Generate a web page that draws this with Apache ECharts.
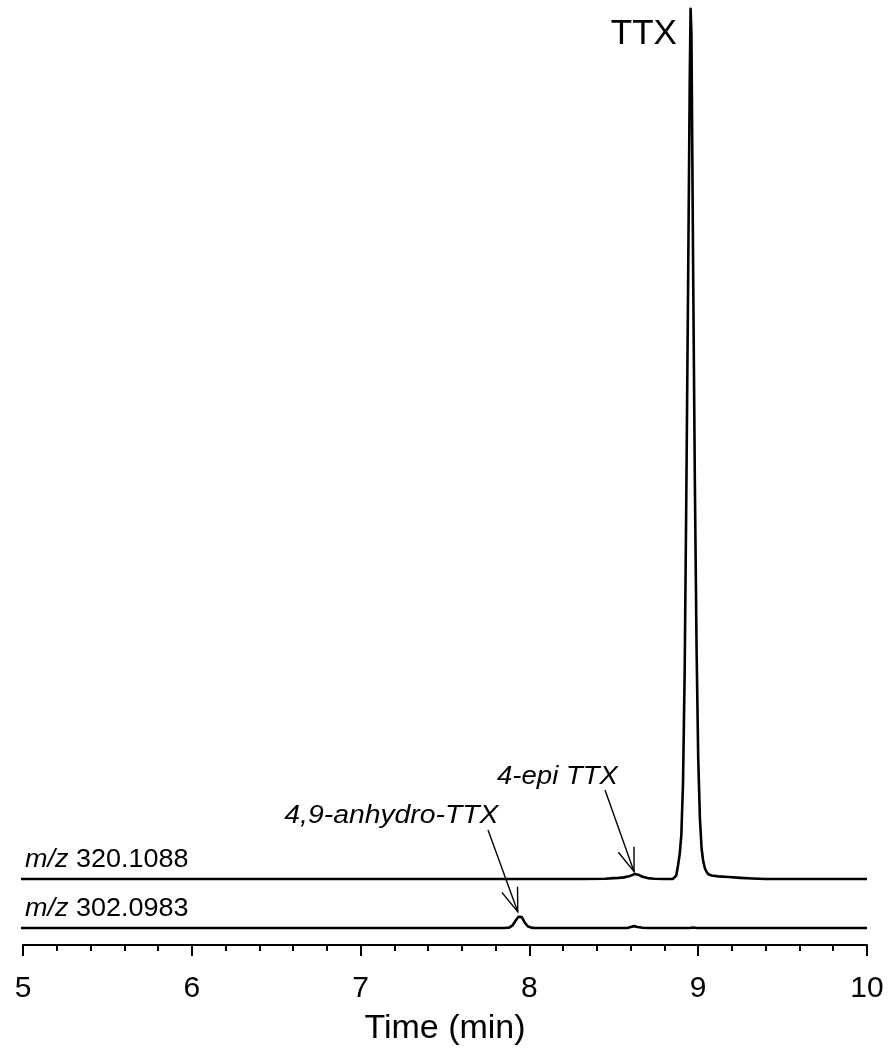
<!DOCTYPE html>
<html>
<head>
<meta charset="utf-8">
<script src="https://cdn.jsdelivr.net/npm/echarts@6/dist/echarts.min.js"></script>
<style>
    html, body { margin: 0; padding: 0; background: #fff; }
    #chart { width: 888px; height: 1053px; }
</style>
</head>
<body>
<div id="chart"></div>
<script>
    // m/z 320.1088 trace (relative intensity, TTX apex = 100)
    const upperTime = [4.983, 8.30, 8.45, 8.50, 8.53, 8.56, 8.59, 8.61, 8.625, 8.636, 8.65, 8.67, 8.70, 8.74, 8.80, 8.85,
        8.86, 8.87, 8.88, 8.89, 8.90, 8.91, 8.92, 8.93, 8.94, 8.95, 8.955, 8.96, 8.97, 8.98, 8.99,
        9.00, 9.01, 9.02, 9.03, 9.04, 9.05, 9.06, 9.08, 9.12, 9.18, 9.25, 9.32, 9.40, 10];
    const upperSignal = [0, 0, 0.03, 0.1, 0.12, 0.18, 0.3, 0.45, 0.58, 0.6, 0.45, 0.25, 0.1, 0.03, 0, 0,
        0.1, 0.4, 1.5, 2.8, 5, 11, 24, 45, 68, 92, 100, 97, 70, 46, 27,
        14, 7, 3.5, 2.0, 1.2, 0.8, 0.55, 0.4, 0.3, 0.22, 0.12, 0.05, 0, 0];

    // m/z 302.0983 trace
    const lowerTime = [4.983, 7.85, 7.88, 7.90, 7.92, 7.935, 7.945, 7.955, 7.97, 7.99, 8.01, 8.03,
        8.58, 8.60, 8.62, 8.64, 8.67, 8.70, 8.95, 8.97, 8.99, 10];
    const lowerSignal = [0, 0, 0.05, 0.3, 0.9, 1.3, 1.38, 1.25, 0.7, 0.2, 0.05, 0,
        0, 0.12, 0.22, 0.12, 0.03, 0, 0, 0.06, 0, 0];

    const traceNames = ['320.1088', '302.0983'];
    const peakNames = ['TTX', '4-epi TTX', '4,9-anhydro-TTX'];

    // vertical stacking of the two traces
    const upperOffset = 7.59;
    const lowerOffset = 1.95;

    // annotation arrows: [tip time, tip value, tail time, tail value]
    const arrows = [
        [8.620, 8.43, 8.448, 17.82],
        [7.931, 3.83, 7.755, 13.22]
    ];

    const font = '"Liberation Sans", Arial, sans-serif';

    function stack(times, values, offset) {
        return times.map((t, i) => [t, values[i] + offset]);
    }

    // text labels placed in data coordinates
    const labels = [
        {pos: [5.012, 9.75], text: '{i|m/z} ' + traceNames[0], align: 'left', size: 25, italic: false, sx: 1.08},
        {pos: [5.012, 4.1], text: '{i|m/z} ' + traceNames[1], align: 'left', size: 25, italic: false, sx: 1.08},
        {pos: [8.874, 104.6], text: peakNames[0], align: 'right', size: 35, italic: false, sx: 1},
        {pos: [7.808, 19.3], text: peakNames[1], align: 'left', size: 26, italic: true, sx: 1.06},
        {pos: [6.548, 14.9], text: peakNames[2], align: 'left', size: 26, italic: true, sx: 1.09}
    ];

    const chart = echarts.init(document.getElementById('chart'));

    const option = {
        animation: false,
        backgroundColor: '#fff',
        textStyle: {fontFamily: font},
        grid: {left: 23, right: 21, top: 0, bottom: 108},
        xAxis: {
            type: 'value',
            min: 5,
            max: 10,
            interval: 1,
            name: 'Time (min)',
            nameLocation: 'middle',
            nameGap: 67,
            nameTextStyle: {fontSize: 34, color: '#000', fontFamily: font},
            axisLine: {show: true, onZero: false, lineStyle: {color: '#000', width: 2}},
            axisTick: {show: true, inside: false, length: 11, lineStyle: {color: '#000', width: 2}},
            minorTick: {show: true, splitNumber: 5, length: 6, lineStyle: {color: '#000', width: 2}},
            axisLabel: {fontSize: 30, color: '#000', margin: 29, fontFamily: font},
            splitLine: {show: false}
        },
        yAxis: {
            type: 'value',
            min: 0,
            max: 108.6,
            show: false,
            splitLine: {show: false}
        },
        series: [
            {
                name: 'm/z 320.1088',
                type: 'line',
                data: stack(upperTime, upperSignal, upperOffset),
                showSymbol: false,
                clip: false,
                lineStyle: {color: '#000', width: 2.6, join: 'round'}
            },
            {
                name: 'm/z 302.0983',
                type: 'line',
                data: stack(lowerTime, lowerSignal, lowerOffset),
                showSymbol: false,
                clip: false,
                lineStyle: {color: '#000', width: 2.6, join: 'round'}
            },
            {
                type: 'custom',
                data: arrows,
                renderItem: function (params, api) {
                    const tip = api.coord([api.value(0), api.value(1)]);
                    const tail = api.coord([api.value(2), api.value(3)]);
                    const ang = Math.atan2(tail[1] - tip[1], tail[0] - tip[0]);
                    const len = 25, half = 19.5 * Math.PI / 180;
                    const h1 = [tip[0] + len * Math.cos(ang + half), tip[1] + len * Math.sin(ang + half)];
                    const h2 = [tip[0] + len * Math.cos(ang - half), tip[1] + len * Math.sin(ang - half)];
                    return {
                        type: 'group',
                        children: [
                            {type: 'line', shape: {x1: tail[0], y1: tail[1], x2: tip[0], y2: tip[1]},
                                style: {stroke: '#000', lineWidth: 1.4}},
                            {type: 'polyline', shape: {points: [h1, tip, h2]},
                                style: {stroke: '#000', fill: null, lineWidth: 1.4}}
                        ]
                    };
                }
            },
            {
                type: 'custom',
                data: labels.map(l => l.pos),
                renderItem: function (params, api) {
                    const l = labels[params.dataIndex];
                    const p = api.coord([api.value(0), api.value(1)]);
                    return {
                        type: 'text',
                        x: p[0],
                        y: p[1],
                        scaleX: l.sx,
                        style: {
                            text: l.text,
                            fill: '#000',
                            fontSize: l.size,
                            fontFamily: font,
                            fontStyle: l.italic ? 'italic' : 'normal',
                            align: l.align,
                            verticalAlign: 'middle',
                            rich: {
                                i: {fontSize: l.size, fontFamily: font, fontStyle: 'italic', fill: '#000'}
                            }
                        }
                    };
                }
            }
        ]
    };

    chart.setOption(option);
</script>
</body>
</html>
